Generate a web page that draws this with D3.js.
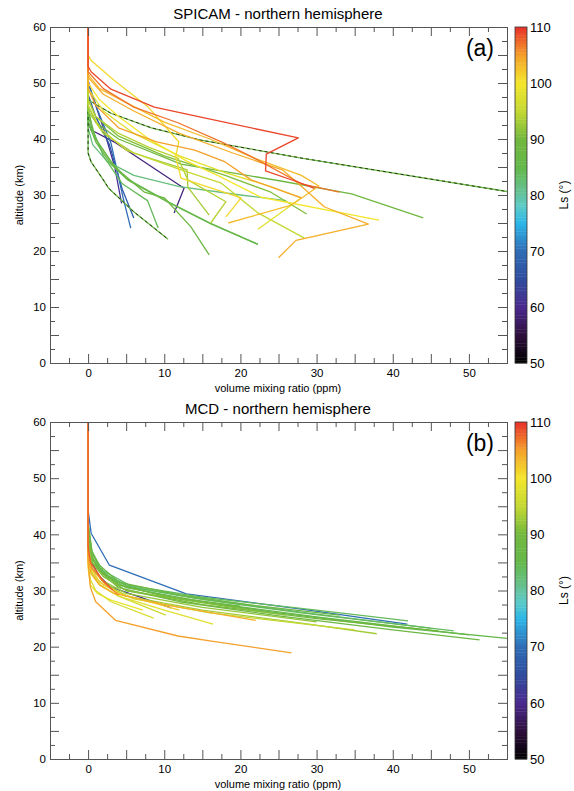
<!DOCTYPE html>
<html>
<head>
<meta charset="utf-8">
<script src="https://cdn.jsdelivr.net/npm/d3@7"></script>
<style>
  body { margin: 0; background: #fff; }
  text { font-family: "Liberation Sans", Arial, sans-serif; }
</style>
</head>
<body>
<div id="chart"></div>
<script>
// SPICAM profiles: Ls value and [ppm, km] points
var spicamLs = [61, 59, 67, 70, 82, 84, 85, 86, 87, 88, 88, 89, 91, 93, 94, 95, 98, 100, 101, 103, 104, 105, 107, 109];
var spicamDashed = [8, 9]; // profiles drawn with a dark dash on top
var spicamProfiles = [
  [[0,60],[0,50.5],[0.5,48],[2,42],[3.5,35],[4.4,28.5]],
  [[0,60],[0,43],[0.4,41.6],[3.4,39.5],[12.6,31.2],[11.3,26.8]],
  [[0,60],[0,48],[1,44],[2.8,39],[4.5,31],[6,25.9]],
  [[0,60],[0,50],[0.8,47],[1.3,45],[3,39.3],[4.6,29.5],[5.6,24.1]],
  [[0,60],[0,42],[0.6,39],[2.5,36],[6,33.5],[12,31.5],[20,30],[26,29]],
  [[0,60],[0,46],[0.5,42],[2,37],[4.5,32],[7.8,29],[9.2,24.1]],
  [[0,60],[0,44],[1,40],[3,36],[5,33],[10.5,28.8],[16,25],[22.3,21.2]],
  [[0,60],[0,43],[1,39.5],[3,35.5],[5.3,32.6],[10.8,28.5],[16.2,24.8],[22.3,21.2]],
  [[0,60],[0,37.5],[0.4,35.9],[2,32.7],[2.7,31.2],[6,27],[10.5,22.1]],
  [[0,60],[0,47],[3,44.6],[8.3,42],[14.8,39.8],[28,36.6],[56,30.4]],
  [[0,60],[0,45],[1,40],[3.5,35],[7.4,30.5],[10,29.5],[13.5,24.3],[15.9,19.3]],
  [[0,60],[0,46],[1,43],[4,40],[12.2,35.5],[25.3,32.5],[34.6,30.2],[44,25.9]],
  [[0,60],[0,47],[1,44],[4,40.5],[10,37],[18,33.5],[24,30.5],[28.7,26.6]],
  [[0,60],[0,45],[2,41],[6,37.5],[13,34.5],[13.1,31.4],[15.9,26.4]],
  [[0,60],[0,47],[1,44],[4,41],[8,38.5],[11.8,36.6],[13.1,32.7],[18.1,28.8],[16.1,25]],
  [[0,60],[0,46],[1.5,42],[5,38],[12.2,34.5],[17.5,32.1],[22.3,26.8],[28.4,22.3]],
  [[0,60],[0,49],[2,45],[6,41],[12,37],[18,34],[24,31.5],[28,29.5],[26.7,28.2],[22.3,23.9]],
  [[0,60],[0,50],[1.5,47],[4,44],[8,40],[13,36],[17,33.5],[22.7,29.6],[38.2,25.5]],
  [[0,60],[0,55],[0.4,54],[3.4,50.5],[7.9,45.7],[11.9,39.5],[11.5,36.8],[12.2,33],[20.1,29.5],[18.1,26.1]],
  [[0,60],[0,51.5],[1.5,49],[5,46.5],[10,43],[16,40],[22,36.5],[28,33.5],[30.3,31.6],[26.7,28.2],[18.4,25]],
  [[0,60],[0,51],[2,48],[6,45],[12,41],[19,37.5],[25.5,34.5],[28.3,31.2],[31,27.9],[36.8,24.8],[27.3,21.9],[25,18.8]],
  [[0,60],[0,49],[1,46],[4,42],[9,39.5],[14,38],[18,35.9],[21.4,32.7],[28,29.5]],
  [[0,60],[0,52],[2,49],[6,45.7],[11.8,42.9],[17.5,39.5],[21.5,36.8],[28,32],[33,30.5]],
  [[0,60],[0,53],[0.4,52],[3,48.9],[8.7,45.7],[14.8,43.9],[27.6,40.2],[23.4,37.3],[23.3,34.3],[28,32.1],[29.7,31.2]]
];

// MCD profiles
var mcdLs = [61, 70, 84, 83, 84, 85, 86, 87, 88, 89, 90, 91, 92, 93, 95, 96, 97, 98, 99, 102, 105, 104, 106, 108];
var mcdProfiles = [
  [[0,60],[0,38],[0.5,35],[1.5,32.5],[3,30.6],[10.9,26.9]],
  [[0,60],[0,44.3],[0.4,40.2],[2.8,34.5],[12.9,29.4],[28,26.7],[41.9,24]],
  [[0,60],[0,40],[0.5,36],[2,33],[5,31],[15,28.8],[30,26.5],[42,24.6]],
  [[0,60],[0,41],[0.5,36.5],[2,33.5],[6,30.5],[16,28.3],[30,25.8],[45,23.3]],
  [[0,60],[0,40],[0.5,36],[1.5,33.5],[5,30.8],[14,28.6],[28,26],[48,22.8]],
  [[0,60],[0,42],[0.5,37],[1.5,34],[4,31],[12,28.5],[25,26],[40,23.5],[57,21.2]],
  [[0,60],[0,40],[0.6,35.5],[2,33],[5,30.5],[15,28],[30,25.3],[50,22.1]],
  [[0,60],[0,42],[0.5,37],[1.5,34.5],[4,31.5],[12,29.2],[22,27.3],[33,25.6]],
  [[0,60],[0,41],[0.5,36],[1.5,33.5],[4,30.5],[12,28],[25,25.5],[40,23],[51.4,21.2]],
  [[0,60],[0,41],[0.5,36],[1.5,33.5],[4,31],[10,29],[20,27.2]],
  [[0,60],[0,39],[0.6,35],[2,32.5],[5,30],[15,27.5],[30,25],[46,22.8]],
  [[0,60],[0,39],[0.5,35],[2,32.5],[5,30],[14,28],[26,25.6]],
  [[0,60],[0,38],[0.5,34],[2,31.7],[5,29.5],[15,27],[30,24.4]],
  [[0,60],[0,38],[0.5,34],[2,31.5],[5,29],[15,26.5],[28,24.2],[37.9,22.3]],
  [[0,60],[0,37],[0.5,33],[2,31],[6,28.5],[16,26],[35,23]],
  [[0,60],[0,37],[0.4,33.5],[1.5,31],[4,29],[10.2,25.6]],
  [[0,60],[0,35],[0.3,32],[1,30],[3,28],[8.6,25.1]],
  [[0,60],[0,36],[0.4,33],[1.5,31],[4,29],[10,26.5],[16.4,24]],
  [[0,60],[0,34],[0.3,31],[1.2,29.5],[3,28.3],[7.2,26.5]],
  [[0,60],[0,37],[0.4,34],[1.5,31.5],[4,29.5],[12,26.5]],
  [[0,60],[0,35],[0.3,30.6],[1,28],[3.6,24.7],[11.8,21.9],[16.2,21],[26.7,18.9]],
  [[0,60],[0,36],[0.4,33],[1.5,31],[3.4,29.5],[10,27.5],[22,24.7]],
  [[0,60],[0,37],[0.5,34],[2,31.5],[4,29.2]],
  [[0,60],[0,38],[0.3,35],[1.9,31.9],[3.2,30.1]]
];

var panelTitles = ["SPICAM - northern hemisphere", "MCD - northern hemisphere"];
var panelTags = ["(a)", "(b)"];
var xLabel = "volume mixing ratio (ppm)";
var yLabel = "altitude (km)";
var cbLabel = "Ls (\u00b0)";
var xLabels = [0, 10, 20, 30, 40, 50];
var yLabels = [0, 10, 20, 30, 40, 50, 60];
var cbTicks = [50, 60, 70, 80, 90, 100, 110];

// colour table stops (Ls -> colour)
var lsStops = [50, 55, 60, 65, 70, 75, 78, 81, 85, 90, 95, 100, 105, 110];
var lsColors = ["#000000", "#2e0f3c", "#4a2a8e", "#2f4c9e", "#2f6db6", "#2cb6e8", "#5ccbc8", "#66c08c", "#64b84a", "#72b83e", "#c4d832", "#f4e62c", "#f4a02a", "#e8302a"];

var width = 574, height = 791;
var color = d3.scaleLinear().domain(lsStops).range(lsColors).clamp(true);

var svg = d3.select("#chart").append("svg")
  .attr("width", width)
  .attr("height", height);

var x = d3.scaleLinear().domain([-5, 55]).range([50, 507]);
var panels = [
  { top: 27, bottom: 363, ls: spicamLs, prof: spicamProfiles, dashed: spicamDashed },
  { top: 422, bottom: 759, ls: mcdLs, prof: mcdProfiles, dashed: [] }
];

var axisColor = "#555";
var major = d3.range(-5, 55.1, 5);
var minor = d3.range(-2.5, 55, 5);
var yMajor = d3.range(0, 60.1, 5);
var yMinor = d3.range(2.5, 60, 5);

function styleAxis(g) {
  g.select(".domain").attr("stroke", axisColor);
  g.selectAll(".tick line").attr("stroke", axisColor);
  g.selectAll(".tick text").attr("fill", "#000").style("font-size", "11.5px")
    .style("font-family", "Liberation Sans, Arial, sans-serif");
}

panels.forEach(function (p, i) {
  var y = d3.scaleLinear().domain([0, 60]).range([p.bottom, p.top]);
  var g = svg.append("g");

  g.append("clipPath").attr("id", "clip" + i)
    .append("rect")
    .attr("x", 50).attr("y", p.top)
    .attr("width", 457).attr("height", p.bottom - p.top);

  var line = d3.line()
    .x(function (d) { return x(d[0]); })
    .y(function (d) { return y(d[1]); });

  // draw in Ls order so the late-season profiles sit on top
  var order = d3.range(p.ls.length).sort(function (a, b) { return p.ls[a] - p.ls[b]; });
  var lines = g.append("g").attr("clip-path", "url(#clip" + i + ")");
  order.forEach(function (k) {
    lines.append("path")
      .attr("d", line(p.prof[k]))
      .attr("fill", "none")
      .attr("stroke", color(p.ls[k]))
      .attr("stroke-width", 1.3)
      .attr("stroke-linejoin", "round");
    if (p.dashed.indexOf(k) >= 0) {
      lines.append("path")
        .attr("d", line(p.prof[k]))
        .attr("fill", "none")
        .attr("stroke", "#1a2a10")
        .attr("stroke-width", 0.9)
        .attr("stroke-dasharray", "3,3");
    }
  });

  // axes: long ticks every 5, short every 2.5
  var fmtX = function (d) { return xLabels.indexOf(d) >= 0 ? d : ""; };
  var fmtY = function (d) { return yLabels.indexOf(d) >= 0 ? d : ""; };

  g.append("g").attr("transform", "translate(0," + p.bottom + ")")
    .call(d3.axisBottom(x).tickValues(major).tickSize(-9).tickPadding(6).tickFormat(fmtX)).call(styleAxis);
  g.append("g").attr("transform", "translate(0," + p.bottom + ")")
    .call(d3.axisBottom(x).tickValues(minor).tickSize(-5).tickFormat("")).call(styleAxis);
  g.append("g").attr("transform", "translate(0," + p.top + ")")
    .call(d3.axisTop(x).tickValues(major).tickSize(-9).tickFormat("")).call(styleAxis);
  g.append("g").attr("transform", "translate(0," + p.top + ")")
    .call(d3.axisTop(x).tickValues(minor).tickSize(-5).tickFormat("")).call(styleAxis);
  g.append("g").attr("transform", "translate(50,0)")
    .call(d3.axisLeft(y).tickValues(yMajor).tickSize(-9).tickPadding(4).tickFormat(fmtY)).call(styleAxis);
  g.append("g").attr("transform", "translate(50,0)")
    .call(d3.axisLeft(y).tickValues(yMinor).tickSize(-5).tickFormat("")).call(styleAxis);
  g.append("g").attr("transform", "translate(507,0)")
    .call(d3.axisRight(y).tickValues(yMajor).tickSize(-9).tickFormat("")).call(styleAxis);
  g.append("g").attr("transform", "translate(507,0)")
    .call(d3.axisRight(y).tickValues(yMinor).tickSize(-5).tickFormat("")).call(styleAxis);

  // titles and labels
  g.append("text").attr("x", 278).attr("y", p.top - 8)
    .attr("text-anchor", "middle").style("font-size", "15px").text(panelTitles[i]);
  g.append("text").attr("x", 494).attr("y", p.top + 29)
    .attr("text-anchor", "end").style("font-size", "23px").text(panelTags[i]);
  g.append("text").attr("x", 278).attr("y", p.bottom + 29)
    .attr("text-anchor", "middle").style("font-size", "11px").text(xLabel);
  g.append("text")
    .attr("transform", "translate(23," + ((p.top + p.bottom) / 2) + ") rotate(-90)")
    .attr("text-anchor", "middle").style("font-size", "11px").text(yLabel);

  // colour bar
  var cb = d3.scaleLinear().domain([50, 110]).range([p.bottom, p.top]);
  var steps = d3.range(50, 110, 0.5);
  g.selectAll(null).data(steps).enter().append("rect")
    .attr("x", 515).attr("width", 12)
    .attr("y", function (d) { return cb(d + 0.5); })
    .attr("height", function (d) { return cb(d) - cb(d + 0.5) + 0.4; })
    .attr("fill", function (d) { return color(d + 0.25); });
  g.append("rect").attr("x", 515).attr("y", p.top).attr("width", 12)
    .attr("height", p.bottom - p.top).attr("fill", "none").attr("stroke", "#333").attr("stroke-width", 0.8);
  var cbAxis = g.append("g").attr("transform", "translate(527,0)")
    .call(d3.axisRight(cb).tickValues(cbTicks).tickSize(0).tickPadding(3));
  cbAxis.select(".domain").remove();
  cbAxis.selectAll("text").attr("fill", "#000").style("font-size", "13px")
    .style("font-family", "Liberation Sans, Arial, sans-serif");
  g.append("text")
    .attr("transform", "translate(568," + ((p.top + p.bottom) / 2) + ") rotate(-90)")
    .attr("text-anchor", "middle").style("font-size", "12px").text(cbLabel);
});
</script>
</body>
</html>
